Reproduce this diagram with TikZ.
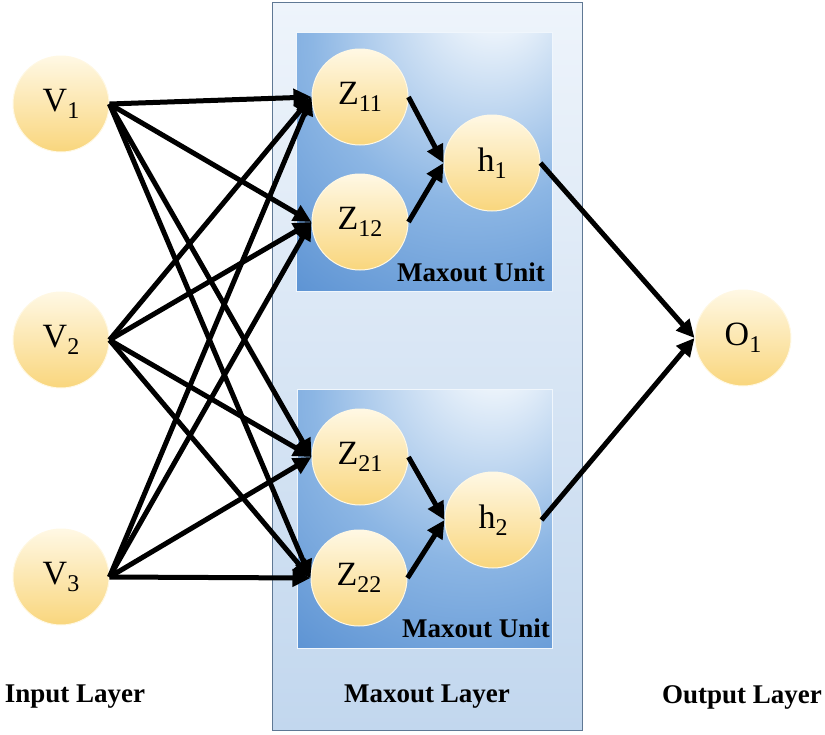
\documentclass[tikz,border=0pt]{standalone}
\usepackage{fontspec}
\setmainfont{Liberation Serif}
\usetikzlibrary{arrows.meta}

\definecolor{cellTop}{RGB}{255,248,228}
\definecolor{cellBot}{RGB}{249,214,125}
\definecolor{layerTop}{RGB}{238,244,251}
\definecolor{layerBot}{RGB}{194,215,238}
\definecolor{layerLine}{RGB}{95,120,148}
\definecolor{unitGlow}{RGB}{240,246,252}
\definecolor{unitMid}{RGB}{140,182,228}
\definecolor{unitDark}{RGB}{72,132,204}

\pgfdeclareradialshading{unitshade}{\pgfpoint{15bp}{35bp}}{color(0bp)=(unitGlow); color(6bp)=(unitGlow); color(32bp)=(unitMid); color(62bp)=(unitDark); color(100bp)=(unitDark)}

\newcommand{\lsub}[1]{\raisebox{-7pt}{\fontsize{24}{24}\selectfont #1}}

\tikzset{
	cell/.style={circle, minimum size=96pt, inner sep=0pt, draw=cellTop, line width=1pt,
		top color=cellTop, bottom color=cellBot, font=\fontsize{34}{34}\selectfont},
	wire/.style={line width=5pt, -{Triangle[length=18pt,width=17pt]}},
	tag/.style={font=\fontsize{27}{27}\selectfont\bfseries}
}

\begin{document}
\begin{tikzpicture}[x=1pt,y=-1pt]
	\useasboundingbox (0,0) rectangle (825,734);

		% Layer and units
		\shade[top color=layerTop, bottom color=layerBot, draw=layerLine, line width=1pt] (272,2) rectangle (582,730);
		\shade[shading=unitshade, draw=unitGlow, line width=0.8pt] (296,32) rectangle (552,291);
		\shade[shading=unitshade, draw=unitGlow, line width=0.8pt] (297,389) rectangle (552,648);

		% Neurons
        \node[cell] (V1) at (61,104) {V\lsub{1}};
        \node[cell] (V2) at (61,340) {V\lsub{2}};
        \node[cell] (V3) at (61,577) {V\lsub{3}};
        \node[cell] (Z11) at (360,97) {Z\lsub{11}};
        \node[cell] (Z12) at (360,222) {Z\lsub{12}};
        \node[cell] (Z21) at (360,457) {Z\lsub{21}};
        \node[cell] (Z22) at (359,578) {Z\lsub{22}};
        \node[cell] (h1) at (492,163) {h\lsub{1}};
        \node[cell] (h2) at (493,520) {h\lsub{2}};
        \node[cell] (O1) at (743,338) {O\lsub{1}};

		% Labels
        \node[tag] (unit1) at (471,272) {Maxout Unit};
        \node[tag] (unit2) at (476,628) {Maxout Unit};
        \node[tag] (in-layer) at (75,697) {Input Layer};
        \node[tag] (max-layer) at (427,697) {Maxout Layer};
        \node[tag] (out-layer) at (742,697) {Output Layer};

		% Connections
		\draw [wire] (V1.east) to (Z11.west);
		\draw [wire] (V1.east) to (Z12.west);
		\draw [wire] (V1.east) to (Z21.west);
		\draw [wire] (V1.east) to (Z22.west);
		\draw [wire] (V2.east) to (Z11.west);
		\draw [wire] (V2.east) to (Z12.west);
		\draw [wire] (V2.east) to (Z21.west);
		\draw [wire] (V2.east) to (Z22.west);
		\draw [wire] (V3.east) to (Z11.west);
		\draw [wire] (V3.east) to (Z12.west);
		\draw [wire] (V3.east) to (Z21.west);
		\draw [wire] (V3.east) to (Z22.west);
		\draw [wire] (Z11.east) to (h1.west);
		\draw [wire] (Z12.east) to (h1.west);
		\draw [wire] (Z21.east) to (h2.west);
		\draw [wire] (Z22.east) to (h2.west);
		\draw [wire] (h1.east) to (O1.west);
		\draw [wire] (h2.east) to (O1.west);

	\end{tikzpicture}
\end{document}
